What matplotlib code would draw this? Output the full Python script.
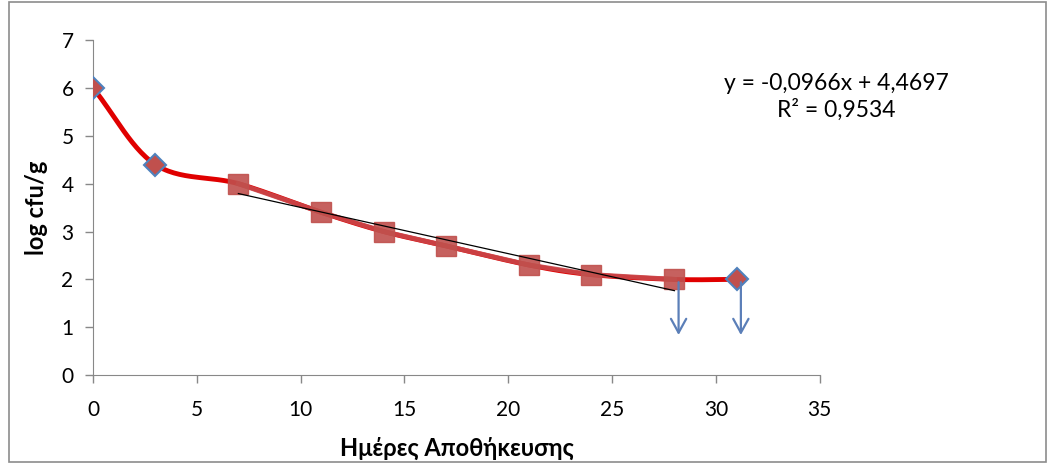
"""Log cfu/g over storage days, Excel-style line chart."""

import matplotlib.pyplot as plt
import numpy as np
from matplotlib.patches import Rectangle

# all measured points (smoothed red line)
days_all = [0, 3, 7, 11, 14, 17, 21, 24, 28, 31]
logcfu_all = [6.0, 4.4, 4.0, 3.4, 3.0, 2.7, 2.3, 2.1, 2.0, 2.0]

# diamond markers (first series)
days_dia = [0, 3, 31]
logcfu_dia = [6.0, 4.4, 2.0]

# square markers (second series, used for the trendline)
days_sq = [7, 11, 14, 17, 21, 24, 28]
logcfu_sq = [4.0, 3.4, 3.0, 2.7, 2.3, 2.1, 2.0]

# points below detection limit
days_lim = [28, 31]
logcfu_lim = [2.0, 2.0]

slope, intercept = -0.0966, 4.4697
eq_text = "y = -0,0966x + 4,4697\nR² = 0,9534"


def catmull_rom(x, y, n=30):
    x = np.asarray(x, float)
    y = np.asarray(y, float)
    px = np.concatenate([[2 * x[0] - x[1]], x, [2 * x[-1] - x[-2]]])
    py = np.concatenate([[2 * y[0] - y[1]], y, [2 * y[-1] - y[-2]]])
    xs, ys = [], []
    t = np.linspace(0, 1, n)
    for i in range(1, len(px) - 2):
        for p, out in ((px, xs), (py, ys)):
            p0, p1, p2, p3 = p[i - 1], p[i], p[i + 1], p[i + 2]
            out.extend(0.5 * (2 * p1 + (-p0 + p2) * t
                              + (2 * p0 - 5 * p1 + 4 * p2 - p3) * t ** 2
                              + (-p0 + 3 * p1 - 3 * p2 + p3) * t ** 3))
    return np.array(xs), np.array(ys)


plt.rcParams["font.family"] = ["Lato", "DejaVu Sans"]

fig = plt.figure(figsize=(10.51, 4.66), dpi=100)
ax = fig.add_axes([0.0885, 0.195, 0.6915, 0.719])

sx, sy = catmull_rom(days_all, logcfu_all)
ax.plot(sx, sy, color="#e00000", lw=3.5, zorder=2, solid_capstyle="round")

ax.plot(days_sq, logcfu_sq, color="#c9474a", lw=3.5, alpha=0.9, zorder=3,
        marker="s", markersize=14, markerfacecolor="#c0504d",
        markeredgecolor="#c0504d")

tx = np.array([days_sq[0], days_sq[-1]])
ax.plot(tx, slope * tx + intercept, color="black", lw=0.9, zorder=4)

ax.plot(days_dia, logcfu_dia, ls="none", marker="D", markersize=11,
        markerfacecolor="#c0504d", markeredgecolor="#4f81bd",
        markeredgewidth=1.5, zorder=5)

for xd, yd in zip(days_lim, logcfu_lim):
    ax.annotate("", xy=(xd + 0.2, 0.78), xytext=(xd + 0.2, yd),
                arrowprops=dict(arrowstyle="->,head_length=1.0,head_width=0.55",
                                color="#5b7fb8", lw=1.6), zorder=6)

ax.text(1.023, 0.83, eq_text, transform=ax.transAxes, ha="center",
        va="center", fontsize=16.5, linespacing=1.25)

ax.set_xlim(0, 35)
ax.set_ylim(0, 7)
ax.set_xticks(range(0, 36, 5))
ax.set_yticks(range(0, 8))
ax.tick_params(labelsize=15, color="#888888", length=6, width=1)
ax.tick_params(axis="x", pad=12)
ax.tick_params(axis="y", pad=8)
for side in ("top", "right"):
    ax.spines[side].set_visible(False)
for side in ("left", "bottom"):
    ax.spines[side].set_color("#888888")

ax.set_xlabel("Ημέρες Αποθήκευσης", fontsize=17, fontweight="bold", labelpad=12)
ax.set_ylabel("log cfu/g", fontsize=17, fontweight="bold", labelpad=10)

fig.patches.append(Rectangle((0.009, 0.008), 0.986, 0.988, transform=fig.transFigure,
                             fill=False, edgecolor="#8c8c8c", lw=1.2))

fig.savefig("out.png", dpi=100)
